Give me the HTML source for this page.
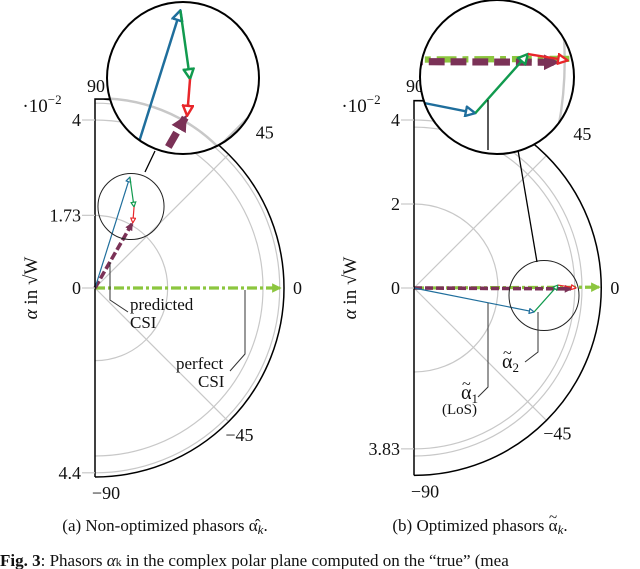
<!DOCTYPE html>
<html><head><meta charset="utf-8"><style>
html,body{margin:0;background:#fff;overflow:hidden;width:640px;height:569px}
svg{display:block}
text{font-family:"Liberation Serif",serif;fill:#111}
</style></head><body>
<svg id="fig" width="640" height="569" viewBox="0 0 640 569" xmlns="http://www.w3.org/2000/svg" overflow="hidden">
<defs>
<marker id="mb" viewBox="0 0 10 10" refX="9" refY="5" markerWidth="5" markerHeight="5" orient="auto"><path d="M1,1 L9,5 L1,9 Z" fill="#fff" stroke="#1f6e9c" stroke-width="2"/></marker>
<marker id="mg" viewBox="0 0 10 10" refX="9" refY="5" markerWidth="5" markerHeight="5" orient="auto"><path d="M1,1 L9,5 L1,9 Z" fill="#fff" stroke="#119a4e" stroke-width="2"/></marker>
<marker id="mr" viewBox="0 0 10 10" refX="9" refY="5" markerWidth="5" markerHeight="5" orient="auto"><path d="M1,1 L9,5 L1,9 Z" fill="#fff" stroke="#e8262a" stroke-width="2"/></marker>
<marker id="mp" viewBox="0 0 10 10" refX="8" refY="5" markerWidth="2.2" markerHeight="2.2" orient="auto"><path d="M0,0 L10,5 L0,10 Z" fill="#7b3257"/></marker>
<marker id="ml" viewBox="0 0 10 10" refX="8" refY="5" markerWidth="3" markerHeight="3" orient="auto"><path d="M0,0 L10,5 L0,10 Z" fill="#8cc63f"/></marker>
<clipPath id="clipA"><circle cx="183" cy="78" r="76"/></clipPath>
<clipPath id="clipB"><circle cx="497" cy="77" r="77"/></clipPath>
</defs>
<g id="plotA"></g>
<g id="plotB"></g>
<text x="165" y="531" font-size="17" text-anchor="middle">(a) Non-optimized phasors α̂<tspan font-style="italic" font-size="13" dy="3">k</tspan><tspan dy="-3">.</tspan></text>
<text x="480" y="531" font-size="17" text-anchor="middle">(b) Optimized phasors α<tspan font-style="italic" font-size="13" dy="3">k</tspan><tspan dy="-3">.</tspan></text>
<text x="549" y="522" font-size="15">~</text>
<text x="0" y="566" font-size="17"><tspan font-weight="bold">Fig. 3</tspan>: Phasors <tspan font-style="italic">α</tspan><tspan font-size="12">k</tspan> in the complex polar plane computed on the “true” (mea</text>
</svg>
<script>
// Plot (a): phasor end points in units of 1e-2 sqrt(W) (real, imag)
const aBlue=[0.83,2.64];
const aGreen=[0.93,1.93];
const aRed=[0.90,1.55];
const aPurple=[0.88,1.53];
const aPerfect=[4.4,0];
const aTicks=[4,1.73,0,4.4];
const aTickLabels=["4","1.73","0","4.4"];
const aGrid=[1.73,4,4.4];
// Plot (b)
const bBlue=[2.86,-0.57];
const bGreen=[3.43,0.07];
const bRed=[3.86,0.0];
const bPurple=[3.74,-0.02];
const bPerfect=[4.4,0.02];
const bTicks=[4,2,0,3.83];
const bTickLabels=["4","2","0","3.83"];
const bGrid=[2,3.83,4];
const angleLabels=["90","45","0","−45","−90"];

const NS="http://www.w3.org/2000/svg";
function mk(tag,attrs,parent){const e=document.createElementNS(NS,tag);for(const k in attrs)e.setAttribute(k,attrs[k]);parent.appendChild(e);return e;}

function plot(g,o){
  const sx=v=>o.ox+v*o.k, sy=v=>o.oy-v*o.k;
  const outer=o.outer*o.k;
  function content(par,sw){
    o.grid.forEach(r=>{const rr=r*o.k;
      const c=mk('path',{d:`M${o.ox},${o.oy-rr} A${rr},${rr} 0 0 1 ${o.ox},${o.oy+rr}`,fill:'none',stroke:'#c8c8c8','stroke-width':1.2*sw},par);
      });
    [45,-45].forEach(a=>{const t=a*Math.PI/180;
      const l=mk('line',{x1:o.ox,y1:o.oy,x2:o.ox+outer*Math.cos(t),y2:o.oy-outer*Math.sin(t),stroke:'#c8c8c8','stroke-width':1.2*sw},par);
      });
    let l=mk('line',{x1:sx(0),y1:sy(0),x2:sx(o.perfect[0]),y2:sy(o.perfect[1]),stroke:'#8cc63f','stroke-width':3.2*sw,'stroke-dasharray':`${10*sw} ${3*sw} ${3*sw} ${3*sw}`,'marker-end':'url(#ml)'},par);
    
    l=mk('line',{x1:sx(0),y1:sy(0),x2:sx(o.purple[0]),y2:sy(o.purple[1]),stroke:'#7b3257','stroke-width':3.6*sw,'stroke-dasharray':`${8*sw} ${3*sw}`,'marker-end':'url(#mp)'},par);
    
    l=mk('line',{x1:sx(0),y1:sy(0),x2:sx(o.blue[0]),y2:sy(o.blue[1]),stroke:'#1f6e9c','stroke-width':1.2*sw,'marker-end':'url(#mb)'},par);
    
    l=mk('line',{x1:sx(o.blue[0]),y1:sy(o.blue[1]),x2:sx(o.green[0]),y2:sy(o.green[1]),stroke:'#119a4e','stroke-width':1.2*sw,'marker-end':'url(#mg)'},par);
    
    l=mk('line',{x1:sx(o.green[0]),y1:sy(o.green[1]),x2:sx(o.red[0]),y2:sy(o.red[1]),stroke:'#e8262a','stroke-width':1.2*sw,'marker-end':'url(#mr)'},par);
    
  }
  content(g,1);
  let p=mk('path',{d:`M${o.ox+15},${o.oy-outer} L${o.ox},${o.oy-outer} L${o.ox},${o.oy+outer} M${o.ox},${o.oy-outer} A${outer},${outer} 0 0 1 ${o.ox},${o.oy+outer}`,fill:'none',stroke:'#000','stroke-width':1.5},g);
  
  o.ticks.forEach((t,i)=>{const y=i===3?o.oy+t*o.k:o.oy-t*o.k;
    const tl=mk('line',{x1:o.ox-13,y1:y,x2:o.ox,y2:y,stroke:'#c8c8c8','stroke-width':1.2},g);
    
    const tx=mk('text',{x:o.ox-14,y:y+6,'font-size':18,'text-anchor':'end'},g);tx.textContent=o.tickLabels[i];
    });
  const ex=mk('text',{x:o.ox-53,y:o.oy-176,'font-size':19,'text-anchor':'middle'},g);
  ex.innerHTML='·10<tspan font-size="13" dy="-8">−2</tspan>';
  
  const ap=[[o.ox+10,o.oy-196,'end'],[o.ox+outer*0.84+2,o.oy-outer*0.79,'start'],[o.ox+outer+9,o.oy+6,'start'],[o.ox+outer*0.69,o.oy+outer*0.81,'start'],[o.ox+11,o.oy+outer+22,'middle']];
  ap.forEach((a,i)=>{const t=mk('text',{x:a[0],y:a[1],'font-size':18,'text-anchor':a[2]},g);t.textContent=angleLabels[i];
    });
  const yt=mk('text',{x:0,y:0,'font-size':19,'text-anchor':'middle',transform:`translate(${o.ox-58},${o.oy}) rotate(-90)`},g);
  yt.innerHTML='<tspan font-style="italic">α</tspan> in √W';
  
  const small=mk('circle',{cx:o.c[0],cy:o.c[1],r:o.Z[2]/o.m,fill:'none',stroke:'#222','stroke-width':1},g);
  
  const cl=mk('line',{x1:o.link[0],y1:o.link[1],x2:o.link[2],y2:o.link[3],stroke:'#000','stroke-width':1.3},g);
  
  mk('circle',{cx:o.Z[0],cy:o.Z[1],r:o.Z[2],fill:'#fff',stroke:'none'},g);
  const zg=mk('g',{'clip-path':`url(#${o.clip})`},g);
  
  const inner=mk('g',{transform:`translate(${o.Z[0]-o.m*o.c[0]},${o.Z[1]-o.m*o.c[1]}) scale(${o.m})`},zg);
  content(inner,0.9);
  mk('circle',{cx:o.Z[0],cy:o.Z[1],r:o.Z[2],fill:'none',stroke:'#000','stroke-width':2},g);
  return {sx,sy};
}
plot(document.getElementById('plotA'),{ox:95,oy:288,k:42,outer:4.5,grid:aGrid,ticks:aTicks,tickLabels:aTickLabels,
  blue:aBlue,green:aGreen,red:aRed,purple:aPurple,perfect:aPerfect,c:[131,206.5],m:2.3,Z:[183,78,76],clip:'clipA',link:[145,172,155,151]});
plot(document.getElementById('plotB'),{ox:414,oy:288,k:42,outer:4.46,grid:bGrid,ticks:bTicks,tickLabels:bTickLabels,
  blue:bBlue,green:bGreen,red:bRed,purple:bPurple,perfect:bPerfect,c:[544,295.5],m:2.2,Z:[497,77,77],clip:'clipB',link:[537,262,518,150]});
const gA=document.getElementById('plotA'), gB=document.getElementById('plotB');
let e=mk('line',{x1:488,y1:100,x2:488,y2:150,stroke:'#000','stroke-width':1.3},gB);

function leader(par,pts,name){const l=mk('polyline',{points:pts,fill:'none',stroke:'#333','stroke-width':1},par);
  }
function label(par,x,y,html,name,fs){const t=mk('text',{x:x,y:y,'font-size':fs||17},par);t.innerHTML=html;
  }
leader(gA,'110,262 110,300 128,312','predicted-csi-leader');
label(gA,130,310,'predicted','predicted-csi-label');
label(gA,130,328,'CSI','predicted-csi-label-2');
leader(gA,'245,290 245,354 230,371','perfect-csi-leader');
label(gA,176,369,'perfect','perfect-csi-label');
label(gA,198,387,'CSI','perfect-csi-label-2');
leader(gB,'488,303 488,387 478,397','alpha1-leader');
label(gB,461,399,'α<tspan font-size="13" dy="4">1</tspan>','alpha1-label',20);
label(gB,462,389,'~','alpha1-tilde',16);
label(gB,442,414,'(LoS)','alpha1-los-label',15);
leader(gB,'538,312 538,352 525,362','alpha2-leader');
label(gB,502,368,'α<tspan font-size="13" dy="4">2</tspan>','alpha2-label',20);
label(gB,503,358,'~','alpha2-tilde',16);
</script>
</body></html>
